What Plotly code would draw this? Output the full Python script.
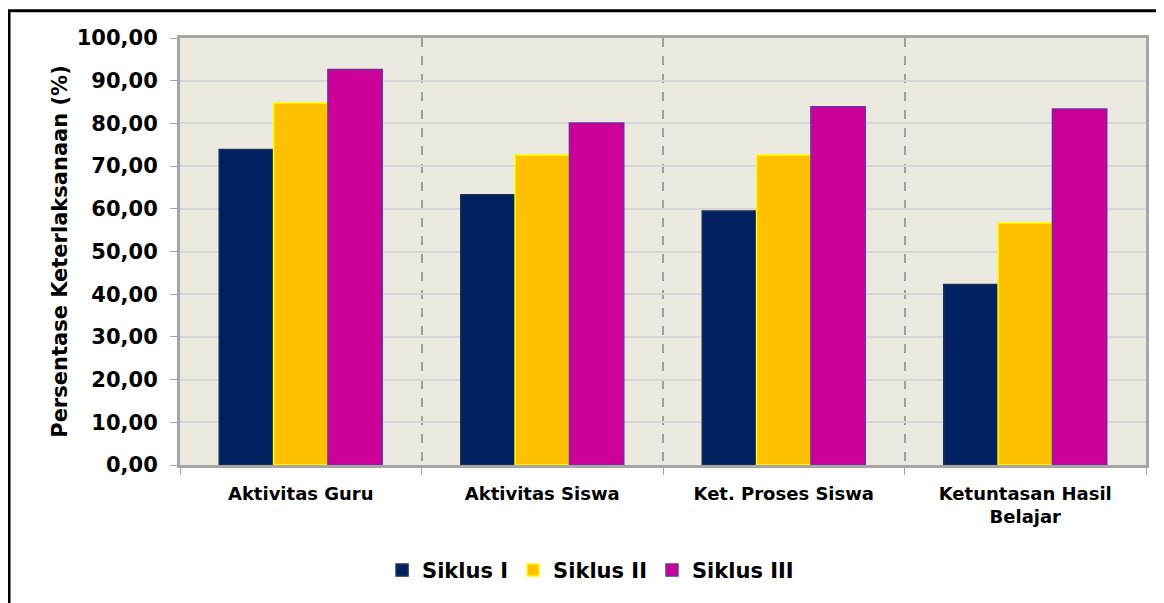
import plotly.graph_objects as go

categories = ["Aktivitas Guru", "Aktivitas Siswa", "Ket. Proses Siswa", "Ketuntasan Hasil<br>Belajar"]
series_names = ["Siklus I", "Siklus II", "Siklus III"]
siklus_1 = [73.9, 63.3, 59.5, 42.3]
siklus_2 = [84.8, 72.6, 72.6, 56.7]
siklus_3 = [92.6, 80.1, 83.9, 83.4]

fills = ["#002060", "#FFC000", "#CC0099"]
outlines = ["#1F2F4F", "#FFFF00", "#7030A0"]

FONT = "DejaVu Sans"

fig = go.Figure()
for name, vals, fc, lc in zip(series_names, [siklus_1, siklus_2, siklus_3], fills, outlines):
    fig.add_trace(go.Bar(
        name=name, x=categories, y=vals,
        marker=dict(color=fc, line=dict(color=lc, width=1.5)),
    ))

fig.update_layout(
    width=1156, height=595,
    margin=dict(l=172, r=18, t=30, b=136),
    paper_bgcolor="white",
    plot_bgcolor="#ECEAE0",
    barmode="group", bargap=0.325, bargroupgap=0,
    separators=",.",
    font=dict(family=FONT, size=18, color="black", weight="bold"),
    showlegend=True,
    legend=dict(orientation="h", x=0.425, xanchor="center", y=-0.247, yanchor="middle",
                font=dict(family=FONT, size=21, color="black", weight="bold"),
                itemwidth=30, tracegroupgap=0, bgcolor="rgba(0,0,0,0)"),
    shapes=[dict(type="rect", xref="paper", yref="paper",
                 x0=-0.177, x1=1.05, y0=-0.40, y1=1.064,
                 line=dict(color="black", width=3), fillcolor="rgba(0,0,0,0)", layer="above")],
)

fig.update_yaxes(
    range=[0, 100], dtick=10, tickformat=".2f",
    showgrid=True, gridcolor="#D6D6D6", gridwidth=1.5,
    showline=True, linecolor="#A6A6A6", linewidth=3, mirror=True,
    ticks="outside", ticklen=7, tickcolor="#A6A6A6", ticklabelstandoff=8,
    tickfont=dict(family=FONT, size=21, color="black", weight="bold"),
    title=dict(text="Persentase Keterlaksanaan (%)", standoff=4,
               font=dict(family=FONT, size=21, color="black", weight="bold")),
    zeroline=False,
)
fig.update_xaxes(
    showgrid=True, gridcolor="#A0A0A0", griddash="dash", gridwidth=1.5,
    tickson="boundaries", ticks="outside", ticklen=7, tickcolor="#A6A6A6",
    ticklabelstandoff=10,
    showline=True, linecolor="#A6A6A6", linewidth=3, mirror=True,
    tickfont=dict(family=FONT, size=18, color="black", weight="bold"),
)

fig.write_html("out.html")
